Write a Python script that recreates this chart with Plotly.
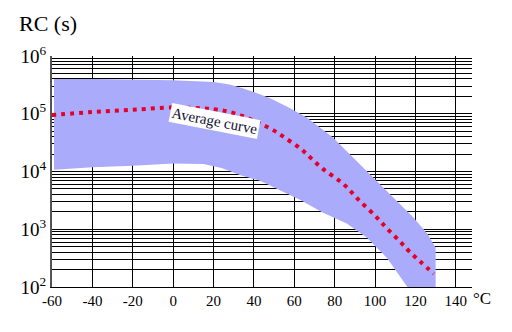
import plotly.graph_objects as go

# Band (upper / lower boundaries), temperature in °C, RC in seconds
upper_t = [-59, -40, 0, 20, 28, 34, 41, 48, 57, 66, 79, 89, 99, 107, 119, 126, 130, 130]
upper_rc = [4.0e5, 4.0e5, 3.8e5, 3.55e5, 3.2e5, 2.8e5, 2.3e5, 1.85e5, 1.3e5, 8.7e4, 3.9e4,
            1.74e4, 7.9e3, 4.2e3, 1.6e3, 830, 480, 100]
lower_t = [-59, -40, -20, 0, 15, 24, 33, 43, 53, 63, 74, 86, 96, 106, 116]
lower_rc = [1.07e4, 1.18e4, 1.26e4, 1.38e4, 1.35e4, 1.15e4, 8.7e3, 6.9e3, 4.7e3, 3.2e3, 1.95e3,
            1.26e3, 710, 316, 100]

# Average curve
avg_t = [-60, -40, -20, 0, 10, 20, 28, 36, 43, 50, 56, 63, 68, 74, 84, 92, 101, 106, 112, 117, 123, 129]
avg_rc = [9.5e4, 1.07e5, 1.17e5, 1.29e5, 1.26e5, 1.2e5, 1.07e5, 8.7e4, 6.8e4, 5.1e4, 3.7e4,
          2.5e4, 1.74e4, 1.12e4, 6.2e3, 3.2e3, 1.58e3, 1.02e3, 630, 410, 263, 170]

x_ticks = [-60, -40, -20, 0, 20, 40, 60, 80, 100, 120, 140]
x_labels = ["-60", "-40", "-20", "0", "20", "40", "60", "80", "100", "120", "140"]
y_major = [1e2, 1e3, 1e4, 1e5, 1e6]
y_labels = ["10<sup>2</sup>", "10<sup>3</sup>", "10<sup>4</sup>", "10<sup>5</sup>", "10<sup>6</sup>"]
y_minor = [m * 10 ** e for e in range(2, 6) for m in range(2, 10)]

SERIF = "Liberation Serif"

fig = go.Figure()
fig.add_trace(go.Scatter(
    x=upper_t + lower_t[::-1], y=upper_rc + lower_rc[::-1],
    fill="toself", fillcolor="#ABABFB", line=dict(width=0), mode="lines",
    hoverinfo="skip", showlegend=False))
fig.add_trace(go.Scatter(
    x=avg_t, y=avg_rc, mode="lines", line_shape="spline",
    line=dict(color="#E4002B", width=4, dash="4px,5px"), showlegend=False))

fig.add_annotation(x=20.5, y=4.87, xref="x", yref="y", text="Average curve",
                   showarrow=False, textangle=11, bgcolor="white", borderpad=1,
                   font=dict(family=SERIF, size=15, color="#101030"))

W, H, L, R, T, B = 512, 332, 52, 40, 56, 45
PW, PH = W - L - R, H - T - B


def px_to_paper(px, py):
    return (px - L) / PW, (H - B - py) / PH


cx, cy = px_to_paper(482, 298)
fig.add_annotation(x=cx, y=cy, xref="paper", yref="paper", text="°C", showarrow=False,
                   xanchor="center", yanchor="middle",
                   font=dict(family=SERIF, size=17, color="black"))
tx, ty = px_to_paper(17, 23)
fig.add_annotation(x=tx, y=ty, xref="paper", yref="paper", text="RC (s)", showarrow=False,
                   xanchor="left", yanchor="middle",
                   font=dict(family=SERIF, size=22, color="black"))

fig.update_layout(
    width=W, height=H,
    margin=dict(l=L, r=R, t=T, b=B),
    paper_bgcolor="white", plot_bgcolor="white",
    xaxis=dict(range=[-60, 148], tickvals=x_ticks, ticktext=x_labels, showgrid=True,
               gridcolor="black", gridwidth=1, zeroline=False, showline=True,
               linecolor="black", linewidth=1, ticks="",
               tickfont=dict(family=SERIF, size=15, color="black")),
    yaxis=dict(type="log", range=[2, 6], tickvals=y_major, ticktext=y_labels,
               showgrid=True, gridcolor="black", gridwidth=1, zeroline=False,
               showline=True, linecolor="#555555", linewidth=2, ticks="",
               tickfont=dict(family=SERIF, size=19, color="black"),
               minor=dict(tickvals=y_minor, showgrid=True, gridcolor="black",
                          gridwidth=1, ticks="")),
)

fig.write_html("out.html")
